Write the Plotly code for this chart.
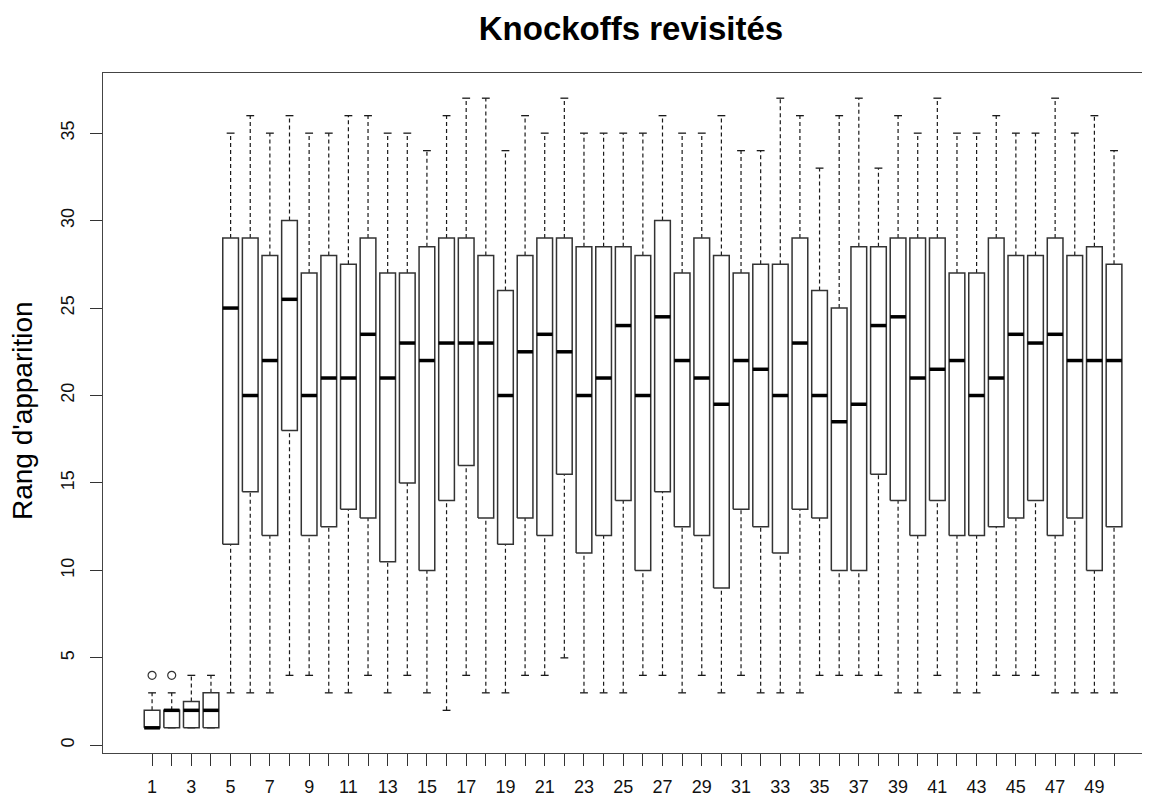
import plotly.graph_objects as go

# ---- data ----
positions = list(range(1, 51))
lower = [1, 1, 1, 1, 3, 3, 3, 4, 4, 3, 3, 4, 3, 4, 3, 2, 4, 3, 3, 4,
         4, 5, 3, 3, 3, 4, 4, 3, 4, 3, 4, 3, 3, 3, 4, 4, 4, 4, 3, 3,
         4, 3, 3, 4, 4, 4, 3, 3, 3, 3]
q1 = [1, 1, 1, 1, 11.5, 14.5, 12, 18, 12, 12.5, 13.5, 13, 10.5, 15, 10, 14, 16, 13, 11.5, 13,
      12, 15.5, 11, 12, 14, 10, 14.5, 12.5, 12, 9, 13.5, 12.5, 11, 13.5, 13, 10, 10, 15.5, 14, 12,
      14, 12, 12, 12.5, 13, 14, 12, 13, 10, 12.5]
median = [1, 2, 2, 2, 25, 20, 22, 25.5, 20, 21, 21, 23.5, 21, 23, 22, 23, 23, 23, 20, 22.5,
          23.5, 22.5, 20, 21, 24, 20, 24.5, 22, 21, 19.5, 22, 21.5, 20, 23, 20, 18.5, 19.5, 24, 24.5, 21,
          21.5, 22, 20, 21, 23.5, 23, 23.5, 22, 22, 22]
q3 = [2, 2, 2.5, 3, 29, 29, 28, 30, 27, 28, 27.5, 29, 27, 27, 28.5, 29, 29, 28, 26, 28,
      29, 29, 28.5, 28.5, 28.5, 28, 30, 27, 29, 28, 27, 27.5, 27.5, 29, 26, 25, 28.5, 28.5, 29, 29,
      29, 27, 27, 29, 28, 28, 29, 28, 28.5, 27.5]
upper = [3, 3, 4, 4, 35, 36, 35, 36, 35, 35, 36, 36, 35, 35, 34, 36, 37, 37, 34, 36,
         35, 37, 35, 35, 35, 35, 36, 35, 35, 36, 34, 34, 37, 36, 33, 36, 37, 33, 36, 35,
         37, 35, 35, 36, 35, 35, 37, 35, 36, 34]
outlier_x = [1, 2]
outlier_y = [4, 4]

x_ticks = list(range(1, 51))
x_ticklabels = [str(i) if i % 2 == 1 else "" for i in x_ticks]
y_ticks = [0, 5, 10, 15, 20, 25, 30, 35]

title = "Knockoffs revisités"
ylabel = "Rang d'apparition"

BOX_HALF = 0.4
CAP_HALF = 0.2
FONT = "Liberation Sans, Arial, sans-serif"

# ---- build path coordinates from data ----
wx, wy = [], []
cx, cy = [], []
bx, by = [], []
mx, my = [], []
for p, lo, a, m, b, hi in zip(positions, lower, q1, median, q3, upper):
    wx += [p, p, None, p, p, None]
    wy += [b, hi, None, lo, a, None]
    cx += [p - CAP_HALF, p + CAP_HALF, None, p - CAP_HALF, p + CAP_HALF, None]
    cy += [hi, hi, None, lo, lo, None]
    bx += [p - BOX_HALF, p + BOX_HALF, p + BOX_HALF, p - BOX_HALF, p - BOX_HALF, None]
    by += [a, a, b, b, a, None]
    mx += [p - BOX_HALF, p + BOX_HALF, None]
    my += [m, m, None]

fig = go.Figure()
fig.add_trace(go.Scatter(x=wx, y=wy, mode="lines", hoverinfo="skip",
                         line=dict(color="#1a1a1a", width=1.2, dash="4px,3px")))
fig.add_trace(go.Scatter(x=cx, y=cy, mode="lines", hoverinfo="skip",
                         line=dict(color="#1a1a1a", width=1.3)))
fig.add_trace(go.Scatter(x=bx, y=by, mode="lines", hoverinfo="skip",
                         line=dict(color="#333333", width=1.5)))
fig.add_trace(go.Scatter(x=mx, y=my, mode="lines", hoverinfo="skip",
                         line=dict(color="#000000", width=3.5)))
fig.add_trace(go.Scatter(x=outlier_x, y=outlier_y, mode="markers", hoverinfo="skip",
                         marker=dict(symbol="circle-open", size=8, color="#333333",
                                     line=dict(width=1.2))))

W, H = 1150, 798
OFF = 8  # page body offset
L, T, B = 95, 65, 53

def px_x(page_x):
    return (page_x - OFF - L) / (W - L)

def px_y(page_y):
    return 1 - (page_y - OFF - T) / (H - T - B)

fig.update_layout(
    width=W, height=H,
    margin=dict(l=L, r=0, t=T, b=B, pad=0),
    paper_bgcolor="white", plot_bgcolor="white",
    showlegend=False,
    font=dict(family=FONT, color="#000000"),
    title=dict(text="<b>" + title + "</b>", x=(631 - OFF) / W, xanchor="center",
               y=1 - (28 - OFF) / H, yanchor="middle", xref="container", yref="container",
               font=dict(size=33, family=FONT, color="#000000")),
)
fig.update_xaxes(
    range=[-1.5, 52.24], tickmode="array", tickvals=x_ticks, ticktext=x_ticklabels,
    ticks="outside", ticklen=12, tickwidth=1.2, tickcolor="#333333",
    showline=True, linecolor="#444444", linewidth=1.4, mirror=True,
    showgrid=False, zeroline=False, automargin=False, ticklabelstandoff=5,
    tickfont=dict(size=18, family=FONT, color="#111111"),
)
fig.update_yaxes(
    range=[-0.44, 38.44], tickmode="array", tickvals=y_ticks,
    ticks="outside", ticklen=12, tickwidth=1.2, tickcolor="#333333",
    showline=True, linecolor="#444444", linewidth=1.4, mirror=False,
    showgrid=False, zeroline=False, automargin=False, tickangle=-90,
    ticklabelstandoff=9,
    tickfont=dict(size=18, family=FONT, color="#111111"),
)
fig.add_annotation(
    text=ylabel, textangle=-90, showarrow=False,
    xref="paper", yref="paper",
    x=px_x(22), y=px_y(411),
    xanchor="center", yanchor="middle",
    font=dict(size=28, family=FONT, color="#000000"),
)

fig.write_html("out.html")
